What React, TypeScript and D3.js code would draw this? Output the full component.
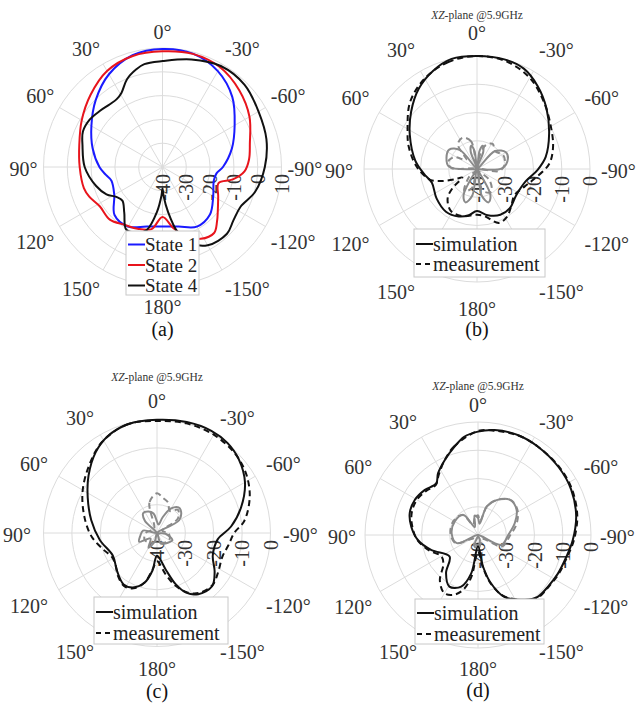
import React from 'react';
import * as d3 from 'd3';

type Pt = [number, number]; // [angle in deg, counter-clockwise from top; gain in dB]

const FONT = '"Liberation Serif", "Times New Roman", serif';

const angleTicks = [0, 30, 60, 90, 120, 150, 180, -150, -120, -90, -60, -30];
const ringTicksA = [-40, -30, -20, -10, 0, 10];
const ringTicksBCD = [-40, -30, -20, -10, 0];
const legendA = ['State 1', 'State 2', 'State 4'];
const legendBCD = ['simulation', 'measurement'];

// (a) states
const state1: Pt[] = [
  [0, 9.6], [15, 8.6], [30, 5], [45, -0.3], [60, -5.5], [75, -9.6], [90, -13.5], [98, -16],
  [105, -17.8], [120, -16.6], [135, -11.5], [150, -11.1], [165, -14.1], [180, -15],
  [-165, -14.1], [-150, -11.1], [-135, -11.8], [-120, -15.4], [-105, -17.7], [-97, -17.2],
  [-90, -14.6], [-75, -9.8], [-60, -5], [-45, 1.5], [-30, 6.5], [-15, 9.3],
];
const state2: Pt[] = [
  [0, 8.6], [15, 8.3], [30, 6.6], [45, 2.8], [60, -0.8], [75, -3.8], [90, -5.2], [105, -5.8],
  [112, -6.8], [122, -8.9], [135, -8.7], [147, -11], [158, -12], [170, -13.5], [180, -19],
  [-170, -14], [-162, -9.5], [-152, -5.8], [-142, -4.8], [-135, -7.6], [-128, -10.5],
  [-118, -13.5], [-106, -15.5], [-100, -10], [-93, -5.5], [-85, -3.5], [-75, -2], [-60, 2.2],
  [-45, 5.6], [-30, 8.4], [-15, 9.2],
];
const state4: Pt[] = [
  [0, 4.5], [10, 3.9], [15, 2.5], [22, -0.2], [29, -4.4], [34, -5.6], [40, -5.6], [48, -4.7],
  [57, -3.5], [66, -3.4], [75, -5.2], [90, -7.3], [106, -11], [116, -13.8], [123, -16.9],
  [130, -18], [140, -15], [150, -9.6], [160, -10.6], [166, -12.7], [173, -21], [178, -28],
  [180, -31], [-178, -28], [-173, -21], [-167, -12], [-160, -6], [-150, -2], [-136, -1],
  [-127, -2.7], [-117, -3.2], [-105, 0.3], [-90, 3], [-75, 5.2], [-60, 6.6], [-45, 8.8],
  [-30, 9], [-15, 6.8],
];

// (b)
const simB: Pt[] = [
  [0, 0], [13, 0], [24, -1.9], [36, -4.9], [49, -9.1], [63, -13.3], [82, -17.9], [95, -21.1],
  [107, -23.3], [126, -22.3], [144, -21.3], [159, -22], [170, -23.4], [180, -25.1],
  [-167, -23.2], [-153, -21.8], [-140, -21.9], [-124, -23.3], [-104, -22.2], [-91, -18.6],
  [-80, -15.3], [-64, -11.6], [-49, -7.4], [-36, -3.6], [-25, -0.8], [-14, 0],
];
const measB: Pt[] = [
  [0, 0], [15, -0.8], [30, -3], [45, -6.5], [61, -11.9], [72, -14.6], [88, -18.7], [103, -23],
  [109, -27], [115, -31.5], [120, -34], [128, -29], [135, -25.3], [148, -22.5], [162, -22.5],
  [180, -23.8], [-171, -23.1], [-158, -19.4], [-148, -20], [-138, -22], [-125, -23.8],
  [-110, -22], [-100, -19.5], [-86, -14.4], [-74, -12], [-61, -10], [-45, -6.5], [-30, -2.7],
  [-15, -0.5],
];
const xSimB: Pt[] = [
  [0, -40], [8, -33.5], [14, -31.5], [20, -33.5], [30, -40], [42, -31], [55, -28], [70, -28.5],
  [85, -30], [100, -40], [145, -40], [153, -29.5], [161, -27.5], [170, -30.5], [180, -40],
  [-170, -30.5], [-161, -27.5], [-153, -29.5], [-145, -40], [-100, -40], [-88, -31], [-72, -28.5],
  [-60, -28.2], [-45, -31], [-32, -40], [-20, -33.5], [-14, -31.5], [-8, -33.5],
];
const xMeasB: Pt[] = [
  [0, -40], [12, -30], [25, -27.8], [38, -29], [50, -35], [62, -31], [75, -29.5], [88, -31],
  [100, -40], [135, -36], [150, -31], [165, -33], [180, -40], [-165, -32], [-148, -30.5],
  [-132, -34], [-110, -40], [-95, -32], [-80, -30], [-62, -29.5], [-45, -31], [-32, -29.5],
  [-20, -31], [-10, -36],
];

// (c)
const simC: Pt[] = [
  [0, -0.1], [15, -0.3], [27, -1.7], [37, -4.2], [50, -8.5], [63, -12.6], [79, -16.4],
  [97, -19.7], [117, -22.5], [134, -20.5], [147, -18.4], [156, -19], [166, -22], [173, -26.6],
  [180, -32], [-166, -26.3], [-160, -20.8], [-154, -16.6], [-146, -14], [-134, -13],
  [-124, -15.5], [-112, -18.8], [-96, -18.5], [-85, -13.8], [-73, -9], [-60, -4.2],
  [-48, -1.2], [-38, 0.3], [-28, 0.8], [-15, 0.5],
];
const measC: Pt[] = [
  [0, -0.5], [15, -0.3], [31, -2.5], [45, -6.2], [61, -10], [78, -13.9], [93, -16.9],
  [107, -20.2], [118, -22], [128, -21.5], [138, -19.5], [148, -18], [157, -18.8], [166, -22],
  [173, -27], [180, -30], [-168, -25], [-161, -20.5], [-153, -16.5], [-145, -14.2],
  [-133, -13.2], [-122, -14.5], [-110, -15.5], [-100, -14.5], [-90, -12.8], [-82, -8.9],
  [-69, -5], [-57, -2.4], [-45, -0.8], [-30, 0], [-15, 0],
];
const xSimC: Pt[] = [
  [0, -36], [10, -33], [22, -31.8], [35, -31.5], [45, -34], [58, -40], [80, -35], [100, -34],
  [116, -33], [130, -37], [150, -34], [165, -37], [180, -40], [-160, -36], [-135, -35],
  [-115, -34], [-95, -37], [-75, -40], [-60, -31], [-48, -28.6], [-40, -28.2], [-30, -30],
  [-20, -34], [-10, -37],
];
const xMeasC: Pt[] = [
  [0, -26], [14, -29], [28, -38], [60, -38], [90, -36], [120, -35], [150, -36], [180, -37],
  [-150, -36], [-120, -35], [-90, -36], [-68, -38], [-55, -31], [-42, -29], [-30, -31],
  [-20, -28.6], [-10, -27.5],
];

// (d)
const simD: Pt[] = [
  [0, -3.4], [8, -4.9], [15, -7.7], [24, -11], [33, -14], [39, -16.5], [50, -15.3], [61, -14.4],
  [72, -14.6], [83, -16.2], [95, -18.7], [108, -22.7], [127, -27.4], [140, -22.4], [151, -19.1],
  [162, -20.8], [170, -26.2], [180, -36], [-171, -28.7], [-165, -22.3], [-157, -16.2],
  [-144, -11.7], [-136, -9.6], [-126, -9.2], [-116, -8.6], [-104, -7.8], [-93, -6.4],
  [-79, -4.6], [-64, -3.3], [-50, -2.7], [-34, -2.2], [-22, -1.9], [-9, -2.4],
];
const measD: Pt[] = [
  [0, -3.2], [15, -7.5], [24, -11], [33, -14.5], [40, -16.8], [50, -15.9], [61, -15],
  [72, -15.3], [83, -16.6], [95, -18.5], [108, -22], [120, -25], [130, -24], [140, -19],
  [150, -16.2], [158, -17.2], [165, -20], [171, -25], [180, -34], [-171, -28], [-165, -22],
  [-157, -16.5], [-144, -11.5], [-136, -9.3], [-126, -9], [-116, -8.3], [-104, -7.5],
  [-93, -6], [-79, -4.2], [-64, -3], [-50, -2.5], [-34, -2.2], [-22, -2], [-9, -2.6],
];
const xSimD: Pt[] = [
  [0, -34], [10, -33], [22, -37], [36, -31.2], [60, -30.5], [88, -30.7], [111, -32], [135, -40],
  [160, -37], [180, -36], [-160, -38], [-135, -40], [-113, -31], [-90, -29.3], [-72, -26.3],
  [-57, -23.7], [-42, -23.2], [-28, -26], [-17, -29.5], [-8, -36],
];
const xMeasD: Pt[] = [
  [0, -33], [12, -34], [25, -36], [38, -31], [60, -30], [85, -30.2], [110, -31.5], [135, -38],
  [160, -36], [180, -35], [-160, -37], [-135, -38], [-115, -30.5], [-92, -28.8], [-74, -25.8],
  [-58, -23.5], [-44, -23], [-30, -25.5], [-18, -29], [-8, -35],
];

interface Series { data: Pt[]; color: string; dash?: string; }
interface LegendBox { x: number; y: number; w: number; h: number; first: number; step: number; size: number; }

interface PanelProps {
  cx: number; cy: number; R: number; domain: [number, number]; rings: number[];
  labelRx: number; labelRy: number; series: Series[]; titleY?: number; caption: string; captionY: number;
  legend: LegendBox; labels: string[]; keys: Series[];
}

const PolarPanel = ({ cx, cy, R, domain, rings, labelRx, labelRy, series, titleY, caption, captionY, legend, labels, keys }: PanelProps) => {
  const r = d3.scaleLinear().domain(domain).range([0, R]);
  const rad = (v: number) => Math.max(0, r(v));
  const line = d3.lineRadial<Pt>()
    .angle(d => (-d[0] * Math.PI) / 180)
    .radius(d => rad(d[1]))
    .curve(d3.curveCatmullRomClosed.alpha(0.5));
  const spokes = d3.range(0, 360, 30);

  return (
    <g>
      {/* grid */}
      <g stroke="#dcdcdc" strokeWidth={1} fill="none">
        {rings.filter(t => t > domain[0]).map(t => (
          <circle key={t} cx={cx} cy={cy} r={rad(t)} />
        ))}
        {spokes.map(a => (
          <line key={a} x1={cx} y1={cy}
            x2={cx + R * Math.sin((a * Math.PI) / 180)}
            y2={cy - R * Math.cos((a * Math.PI) / 180)} />
        ))}
      </g>

      {/* radial tick labels */}
      <g fontFamily={FONT} fontSize={20} fill="#333">
        {rings.map(t => {
          const x = cx + rad(t);
          const y = cy + 7;
          return (
            <text key={t} x={x} y={y} textAnchor="end" dominantBaseline="central"
              transform={`rotate(-90, ${x}, ${y})`}>{t}</text>
          );
        })}
      </g>

      {/* curves */}
      <g fill="none" strokeWidth={2} strokeLinejoin="round">
        {series.map((s, i) => (
          <path key={i} d={line(s.data) ?? ''} transform={`translate(${cx},${cy})`}
            stroke={s.color} strokeDasharray={s.dash} />
        ))}
      </g>

      {/* legend */}
      <g>
        <rect x={legend.x} y={legend.y} width={legend.w} height={legend.h} fill="#fff" stroke="#c8c8c8" />
        {labels.map((lab, i) => {
          const y = legend.y + legend.first + i * legend.step;
          return (
            <g key={lab}>
              <line x1={legend.x + 2} x2={legend.x + 19} y1={y} y2={y} stroke={keys[i].color}
                strokeWidth={2} strokeDasharray={keys[i].dash} />
              <text x={legend.x + 19} y={y} dominantBaseline="central" fontFamily={FONT}
                fontSize={legend.size} fill="#222">{lab}</text>
            </g>
          );
        })}
      </g>

      {/* angle labels */}
      <g fontFamily={FONT} fontSize={20} fill="#333">
        {angleTicks.map(a => {
          const ux = -Math.sin((a * Math.PI) / 180);
          const uy = -Math.cos((a * Math.PI) / 180);
          const x = cx + ux * labelRx;
          const y = cy + uy * (labelRy - 8.5) + (Math.abs(uy) < 0.01 ? 0 : Math.sign(uy) * 8.5) + 2;
          const anchor = Math.abs(ux) < 0.01 ? 'middle' : ux < 0 ? 'end' : 'start';
          return (
            <text key={a} x={x} y={y} textAnchor={anchor} dominantBaseline="central">{`${a}°`}</text>
          );
        })}
      </g>

      {titleY !== undefined && (
        <text x={cx} y={titleY} textAnchor="middle" dominantBaseline="central" fontFamily={FONT}
          fontSize={11.5} fill="#333">
          <tspan fontStyle="italic">XZ</tspan>-plane @5.9GHz
        </text>
      )}
      <text x={cx} y={captionY} textAnchor="middle" dominantBaseline="central" fontFamily={FONT}
        fontSize={20} fill="#111">{caption}</text>
    </g>
  );
};

const BLACK = '#111';
const GRAY = '#8a8a8a';
const DASH = '6,4';

const simKeys: Series[] = [
  { data: [], color: BLACK },
  { data: [], color: BLACK, dash: '5,4' },
];

export default function App() {
  const keysA: Series[] = [
    { data: state1, color: '#1a1aff' },
    { data: state2, color: '#e8141c' },
    { data: state4, color: BLACK },
  ];
  return (
    <svg width={636} height={705} viewBox="0 0 636 705"
      style={{ position: 'absolute', left: 0, top: 0, background: '#fff' }}>
      <PolarPanel cx={162.5} cy={167} R={119} domain={[-40, 10]} rings={ringTicksA}
        labelRx={125} labelRy={137.5}
        series={keysA} caption="(a)" captionY={329}
        legend={{ x: 126, y: 231, w: 73, h: 64, first: 13.5, step: 20.5, size: 19 }}
        labels={legendA} keys={keysA} />
      <PolarPanel cx={477} cy={169} R={113} domain={[-40, 0]} rings={ringTicksBCD}
        labelRx={124} labelRy={138}
        series={[
          { data: xSimB, color: GRAY },
          { data: xMeasB, color: GRAY, dash: DASH },
          { data: simB, color: BLACK },
          { data: measB, color: BLACK, dash: DASH },
        ]}
        titleY={15} caption="(b)" captionY={329}
        legend={{ x: 414, y: 229, w: 131, h: 48, first: 15, step: 20, size: 20 }}
        labels={legendBCD} keys={simKeys} />
      <PolarPanel cx={157} cy={533} R={113.5} domain={[-40, 0]} rings={ringTicksBCD}
        labelRx={126} labelRy={134}
        series={[
          { data: xSimC, color: GRAY },
          { data: xMeasC, color: GRAY, dash: DASH },
          { data: simC, color: BLACK },
          { data: measC, color: BLACK, dash: DASH },
        ]}
        titleY={377} caption="(c)" captionY={691}
        legend={{ x: 94, y: 597, w: 134, h: 47, first: 15, step: 21, size: 20 }}
        labels={legendBCD} keys={simKeys} />
      <PolarPanel cx={478} cy={535} R={113} domain={[-40, 0]} rings={ringTicksBCD}
        labelRx={122} labelRy={132}
        series={[
          { data: xSimD, color: GRAY },
          { data: xMeasD, color: GRAY, dash: DASH },
          { data: simD, color: BLACK },
          { data: measD, color: BLACK, dash: DASH },
        ]}
        titleY={386} caption="(d)" captionY={690}
        legend={{ x: 415, y: 599, w: 129, h: 45, first: 14, step: 21, size: 20 }}
        labels={legendBCD} keys={simKeys} />
    </svg>
  );
}
